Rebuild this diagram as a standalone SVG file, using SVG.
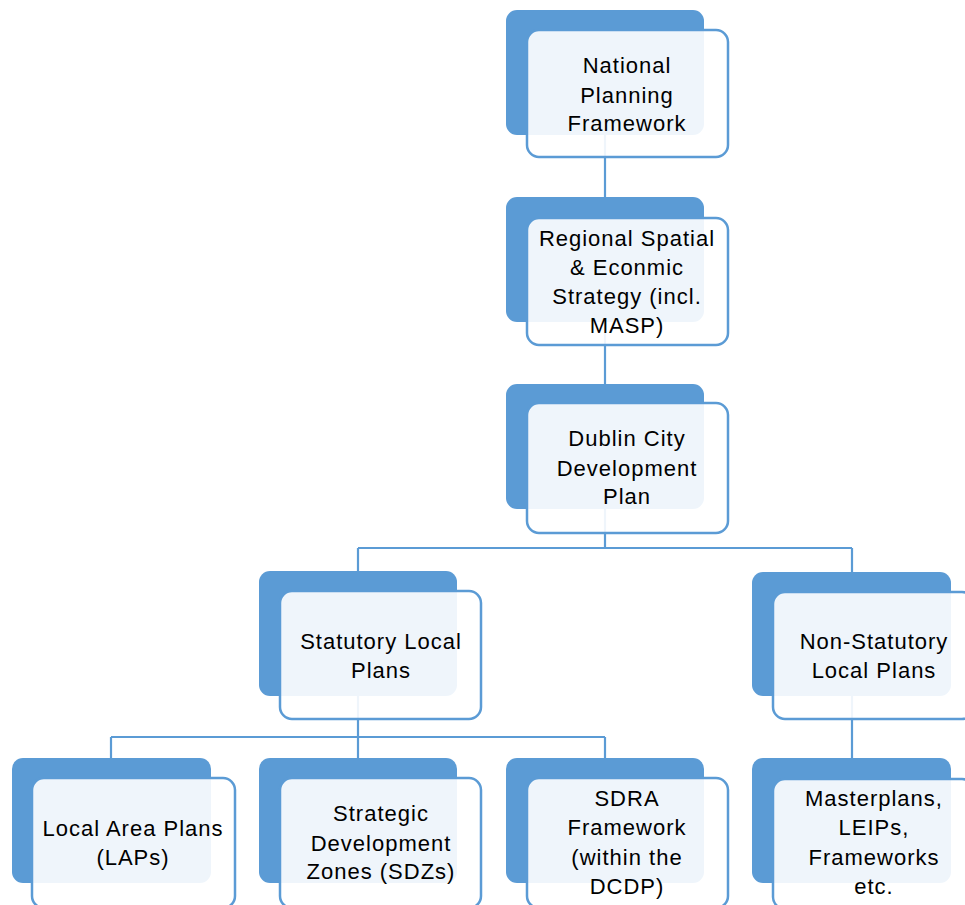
<svg xmlns="http://www.w3.org/2000/svg" width="965" height="905" viewBox="0 0 965 905">
<style>
.bk{fill:#5B9BD5;}
.fr{fill:#FFFFFF;fill-opacity:0.9;stroke:#5B9BD5;stroke-width:2.5;}
.cn{fill:none;stroke:#5B9BD5;stroke-width:2.2;}
text{font-family:"Liberation Sans",Arial,sans-serif;font-size:22px;fill:#000;text-anchor:middle;letter-spacing:1px;}
</style>
<rect width="965" height="905" fill="#FFFFFF"/>
<g id="connectors">
<path class="cn" d="M605 135V197M605 322V384M605 509V548M358 548H852M358 548V571M852 548V572M358 696V737M111 737H605M111 737V758M358 737V758M605 737V758M852 696V758"/>
</g>
<g id="n1">
<rect class="bk" x="506" y="10" width="198" height="125" rx="11"/>
<rect class="fr" x="527" y="30" width="201" height="127" rx="12"/>
<text x="627" y="73">National</text><text x="627" y="103">Planning</text><text x="627" y="131">Framework</text>
</g>
<g id="n2">
<rect class="bk" x="506" y="197" width="198" height="125" rx="11"/>
<rect class="fr" x="527" y="218" width="201" height="127" rx="12"/>
<text x="627" y="246">Regional Spatial</text><text x="627" y="275">&amp; Econmic</text><text x="627" y="304">Strategy (incl.</text><text x="627" y="333">MASP)</text>
</g>
<g id="n3">
<rect class="bk" x="506" y="384" width="198" height="125" rx="11"/>
<rect class="fr" x="527" y="403" width="201" height="130" rx="12"/>
<text x="627" y="446">Dublin City</text><text x="627" y="476">Development</text><text x="627" y="504">Plan</text>
</g>
<g id="n4">
<rect class="bk" x="259" y="571" width="198" height="125" rx="11"/>
<rect class="fr" x="280" y="591" width="201" height="128" rx="12"/>
<text x="381" y="649">Statutory Local</text><text x="381" y="678">Plans</text>
</g>
<g id="n5">
<rect class="bk" x="752" y="572" width="199" height="124" rx="11"/>
<rect class="fr" x="773" y="592" width="201" height="127" rx="12"/>
<text x="874" y="649">Non-Statutory</text><text x="874" y="678">Local Plans</text>
</g>
<g id="n6">
<rect class="bk" x="12" y="758" width="199" height="125" rx="11"/>
<rect class="fr" x="32" y="778" width="203" height="130" rx="12"/>
<text x="133" y="836">Local Area Plans</text><text x="133" y="865">(LAPs)</text>
</g>
<g id="n7">
<rect class="bk" x="259" y="758" width="198" height="125" rx="11"/>
<rect class="fr" x="280" y="778" width="201" height="130" rx="12"/>
<text x="381" y="821">Strategic</text><text x="381" y="851">Development</text><text x="381" y="879">Zones (SDZs)</text>
</g>
<g id="n8">
<rect class="bk" x="506" y="758" width="198" height="125" rx="11"/>
<rect class="fr" x="527" y="778" width="201" height="130" rx="12"/>
<text x="627" y="806">SDRA</text><text x="627" y="835">Framework</text><text x="627" y="865">(within the</text><text x="627" y="894">DCDP)</text>
</g>
<g id="n9">
<rect class="bk" x="752" y="758" width="199" height="125" rx="11"/>
<rect class="fr" x="773" y="779" width="201" height="130" rx="12"/>
<text x="874" y="806">Masterplans,</text><text x="874" y="835">LEIPs,</text><text x="874" y="865">Frameworks</text><text x="874" y="894">etc.</text>
</g>
</svg>
